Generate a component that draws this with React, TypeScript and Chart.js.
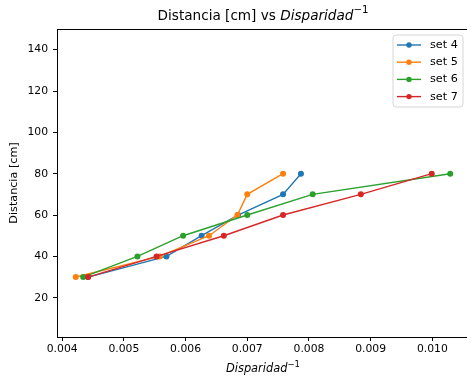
import React, { useEffect, useRef } from "react";
import { Chart, registerables } from "chart.js";

Chart.register(...registerables);

const levels = [30, 40, 50, 60, 70, 80];
const set4X = [0.00442, 0.00569, 0.00626, 0.00685, 0.00758, 0.00787];
const set5X = [0.00422, 0.00558, 0.00638, 0.00684, 0.007, 0.00758];
const set6X = [0.00434, 0.00522, 0.00596, 0.007, 0.00806, 0.01029];
const set7X = [0.00442, 0.00553, 0.00662, 0.00758, 0.00884, 0.00999];
const seriesNames = ["set 4", "set 5", "set 6", "set 7"];
const seriesColors = ["#1f77b4", "#ff7f0e", "#2ca02c", "#d62728"];
const xTicks = [0.004, 0.005, 0.006, 0.007, 0.008, 0.009, 0.01];
const yTicks = [20, 40, 60, 80, 100, 120, 140];

const FONT = "'DejaVu Sans', sans-serif";
const TICK_SIZE = 10.8;

function drawMixed(ctx: CanvasRenderingContext2D, parts: { t: string; italic?: boolean; sup?: boolean }[], cx: number, cy: number, size: number) {
  const fontFor = (p: any) => `${p.italic ? "italic " : ""}${p.sup ? size * 0.75 : size}px ${FONT}`;
  let total = 0;
  const widths = parts.map((p) => {
    ctx.font = fontFor(p);
    const w = ctx.measureText(p.t).width;
    total += w;
    return w;
  });
  let x = cx - total / 2;
  ctx.textBaseline = "middle";
  ctx.textAlign = "left";
  parts.forEach((p, i) => {
    ctx.font = fontFor(p);
    ctx.fillText(p.t, x, p.sup ? cy - size * 0.4 : cy);
    x += widths[i];
  });
}

const decorPlugin = {
  id: "decor",
  afterDraw(chart: any) {
    const ctx = chart.ctx as CanvasRenderingContext2D;
    const a = chart.chartArea;
    ctx.save();
    // frame
    ctx.strokeStyle = "#000";
    ctx.lineWidth = 1;
    ctx.strokeRect(Math.round(a.left) + 0.5, Math.round(a.top) + 0.5, a.right - a.left, a.bottom - a.top);
    ctx.fillStyle = "#000";
    // title
    drawMixed(ctx, [{ t: "Distancia [cm] vs " }, { t: "Disparidad", italic: true }, { t: "\u22121", sup: true }], (a.left + a.right) / 2, 16, 13.6);
    // x label
    drawMixed(ctx, [{ t: "Disparidad", italic: true }, { t: "\u22121", sup: true }], (a.left + a.right) / 2, 369, 11.4);
    // y label
    ctx.save();
    ctx.translate(14, (a.top + a.bottom) / 2);
    ctx.rotate(-Math.PI / 2);
    ctx.font = `11.2px ${FONT}`;
    ctx.textAlign = "center";
    ctx.textBaseline = "middle";
    ctx.fillText("Distancia [cm]", 0, 0);
    ctx.restore();
    // legend
    const bx = 393, by = 35, bw = 70, bh = 72, r = 3;
    ctx.beginPath();
    ctx.moveTo(bx + r, by);
    ctx.arcTo(bx + bw, by, bx + bw, by + bh, r);
    ctx.arcTo(bx + bw, by + bh, bx, by + bh, r);
    ctx.arcTo(bx, by + bh, bx, by, r);
    ctx.arcTo(bx, by, bx + bw, by, r);
    ctx.closePath();
    ctx.fillStyle = "rgba(255,255,255,0.8)";
    ctx.fill();
    ctx.strokeStyle = "#d6d6d6";
    ctx.lineWidth = 1;
    ctx.stroke();
    seriesNames.forEach((name, i) => {
      const y = 45 + i * 17.2;
      ctx.strokeStyle = seriesColors[i];
      ctx.lineWidth = 1.4;
      ctx.beginPath();
      ctx.moveTo(397, y);
      ctx.lineTo(421, y);
      ctx.stroke();
      ctx.fillStyle = seriesColors[i];
      ctx.beginPath();
      ctx.arc(409, y, 2.7, 0, Math.PI * 2);
      ctx.fill();
      ctx.fillStyle = "#000";
      ctx.font = `11.2px ${FONT}`;
      ctx.textAlign = "left";
      ctx.textBaseline = "middle";
      ctx.fillText(name, 430, y);
    });
    ctx.restore();
  },
};

export default function App() {
  const ref = useRef<HTMLCanvasElement>(null);
  useEffect(() => {
    document.body.style.overflow = "hidden";
    const xs = [set4X, set5X, set6X, set7X];
    const chart = new Chart(ref.current!, {
      type: "line",
      data: {
        datasets: xs.map((arr, i) => ({
          label: seriesNames[i],
          data: arr.map((x, j) => ({ x, y: levels[j] })),
          borderColor: seriesColors[i],
          backgroundColor: seriesColors[i],
          borderWidth: 1.4,
          pointRadius: 3,
          pointBorderWidth: 0,
          pointHoverRadius: 3,
          tension: 0,
          order: 4 - i,
        })),
      },
      options: {
        animation: false,
        responsive: false,
        devicePixelRatio: 1,
        layout: { padding: { left: 0, top: 29, right: 3, bottom: 0 } },
        plugins: { legend: { display: false }, title: { display: false }, tooltip: { enabled: false } },
        scales: {
          x: {
            type: "linear",
            min: 0.003916,
            max: 0.010594,
            afterFit: (s: any) => { s.height = 41; },
            afterBuildTicks: (s: any) => { s.ticks = xTicks.map((v) => ({ value: v })); },
            grid: { drawOnChartArea: false, drawTicks: true, tickLength: 4, color: "#000" },
            border: { display: true, color: "#000" },
            ticks: {
              color: "#000",
              padding: 2,
              maxRotation: 0,
              autoSkip: false,
              font: { family: FONT, size: TICK_SIZE },
              callback: (v: any) => Number(v).toFixed(3),
            },
          },
          y: {
            type: "linear",
            min: 1,
            max: 150,
            afterFit: (s: any) => { s.width = 57; },
            afterBuildTicks: (s: any) => { s.ticks = yTicks.map((v) => ({ value: v })); },
            grid: { drawOnChartArea: false, drawTicks: true, tickLength: 4, color: "#000" },
            border: { display: true, color: "#000" },
            ticks: {
              color: "#000",
              padding: 5,
              autoSkip: false,
              font: { family: FONT, size: TICK_SIZE },
              callback: (v: any) => String(v),
            },
          },
        },
      },
      plugins: [decorPlugin],
    } as any);
    return () => chart.destroy();
  }, []);
  return (
    <div style={{ position: "fixed", left: 0, top: 0, width: 467, height: 378, overflow: "hidden", background: "#fff" }}>
      <canvas ref={ref} width={472} height={378} style={{ width: 472, height: 378, display: "block" }} />
    </div>
  );
}
